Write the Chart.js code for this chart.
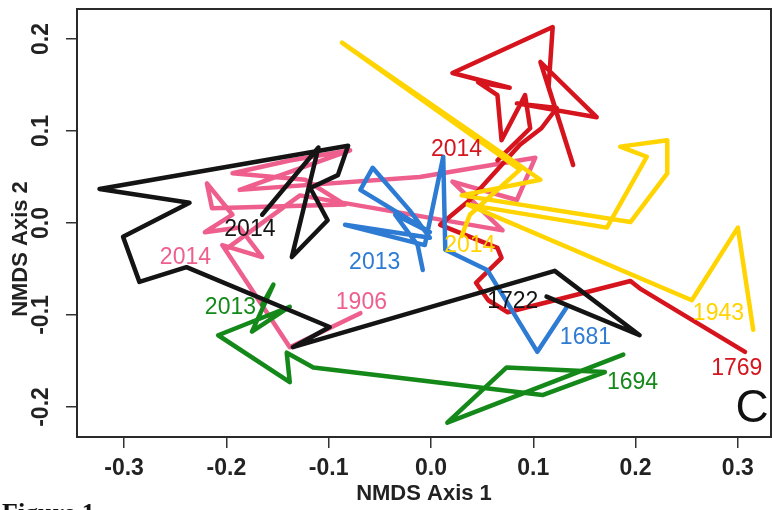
<!DOCTYPE html>
<html>
<head>
<meta charset="utf-8">
<title>NMDS trajectories</title>
<script src="https://cdn.jsdelivr.net/npm/chart.js@4.4.1/dist/chart.umd.min.js"></script>
<style>
  html, body { margin: 0; padding: 0; background: #fff; }
  #wrap { width: 772px; height: 510px; position: relative; }
</style>
</head>
<body>
<div id="wrap"><canvas id="nmds" width="772" height="510"></canvas></div>
<script>
  "use strict";

  // NMDS scores per site, oldest sample first, last point = 2013/2014
  const s1722X = [0.113, 0.204, 0.121, -0.135, -0.099, -0.239, -0.285, -0.301, -0.236, -0.324, -0.081, -0.091, -0.118, -0.101, -0.136, -0.110, -0.165];
  const s1722Y = [-0.080, -0.122, -0.052, -0.135, -0.113, -0.048, -0.064, -0.015, 0.022, 0.037, 0.084, 0.052, 0.038, 0.003, -0.037, 0.082, 0.009];

  const s1906X = [-0.069, -0.138, -0.204, -0.165, -0.187, -0.221, -0.194, -0.219, -0.214, -0.084, -0.123, -0.194, -0.138, -0.079, -0.187, -0.011, 0.102, 0.084, 0.021, 0.070, -0.128, -0.201];
  const s1906Y = [-0.098, -0.135, -0.024, -0.037, -0.005, -0.010, 0.009, 0.043, 0.016, 0.020, 0.047, 0.054, 0.068, 0.079, 0.036, 0.050, 0.071, 0.025, 0.045, -0.008, 0.030, -0.029];

  const s1769X = [0.307, 0.204, 0.195, 0.075, 0.056, 0.044, 0.069, 0.065, 0.009, 0.038, 0.087, 0.108, 0.123, 0.084, 0.162, 0.107, 0.139, 0.115, 0.119, 0.021, 0.077, 0.046, 0.065, 0.069, 0.092, 0.097, 0.065];
  const s1769Y = [-0.140, -0.071, -0.063, -0.097, -0.084, -0.065, -0.038, -0.027, -0.002, 0.025, 0.085, 0.103, 0.125, 0.130, 0.115, 0.175, 0.063, 0.148, 0.213, 0.163, 0.147, 0.153, 0.139, 0.090, 0.139, 0.103, 0.068];

  const s1943X = [0.315, 0.300, 0.255, 0.036, 0.172, 0.211, 0.185, 0.231, 0.231, 0.195, 0.030, 0.107, -0.087, 0.087, 0.038, 0.030];
  const s1943Y = [-0.116, -0.005, -0.084, 0.020, -0.005, 0.072, 0.083, 0.090, 0.054, 0.001, 0.030, 0.047, 0.196, 0.058, 0.009, -0.014];

  const s1681X = [0.133, 0.104, 0.055, 0.014, 0.012, -0.006, -0.084, -0.001, -0.021, -0.057, -0.069, -0.001, -0.035, -0.013, -0.008];
  const s1681Y = [-0.091, -0.140, -0.051, -0.029, 0.072, -0.024, -0.002, -0.016, 0.014, 0.060, 0.036, -0.010, 0.009, -0.024, -0.051];

  const s1694X = [0.188, 0.016, 0.074, 0.170, 0.109, -0.115, -0.141, -0.138, -0.208, -0.138, -0.175, -0.154, -0.165];
  const s1694Y = [-0.143, -0.217, -0.157, -0.162, -0.187, -0.157, -0.141, -0.173, -0.122, -0.091, -0.118, -0.067, -0.089];

  const xTicks = [-0.3, -0.2, -0.1, 0.0, 0.1, 0.2, 0.3];
  const yTicks = [-0.2, -0.1, 0.0, 0.1, 0.2];

  const COLORS = {
    black: "#141414",
    pink: "#ee5f8e",
    red: "#d5141d",
    yellow: "#ffd400",
    blue: "#2e7bd3",
    green: "#14891a",
  };

  // start / end year tags, placed in NMDS units
  const yearTags = [
    { text: "2014", x: -0.177, y: -0.007, color: COLORS.black },
    { text: "1722", x: 0.080, y: -0.086, color: COLORS.black },
    { text: "2014", x: -0.240, y: -0.038, color: COLORS.pink },
    { text: "1906", x: -0.068, y: -0.087, color: COLORS.pink },
    { text: "2013", x: -0.196, y: -0.092, color: COLORS.green },
    { text: "1694", x: 0.197, y: -0.174, color: COLORS.green },
    { text: "2013", x: -0.055, y: -0.043, color: COLORS.blue },
    { text: "1681", x: 0.151, y: -0.125, color: COLORS.blue },
    { text: "2014", x: 0.025, y: 0.080, color: COLORS.red },
    { text: "1769", x: 0.299, y: -0.158, color: COLORS.red },
    { text: "2014", x: 0.038, y: -0.025, color: COLORS.yellow },
    { text: "1943", x: 0.281, y: -0.098, color: COLORS.yellow },
  ];

  const SANS = '"Liberation Sans", Arial, Helvetica, sans-serif';

  function pts(xs, ys) {
    return xs.map((v, i) => ({ x: v, y: ys[i] }));
  }

  function track(label, xs, ys, color, order) {
    return {
      label,
      data: pts(xs, ys),
      showLine: true,
      borderColor: color,
      backgroundColor: color,
      borderWidth: 4.5,
      borderJoinStyle: "round",
      borderCapStyle: "round",
      pointRadius: 0,
      tension: 0,
      order,
    };
  }

  const decor = {
    id: "decor",
    afterDatasetsDraw(chart) {
      const { ctx, scales: { x, y } } = chart;
      ctx.save();
      ctx.font = "23px " + SANS;
      ctx.textAlign = "center";
      ctx.textBaseline = "middle";
      yearTags.forEach((t) => {
        ctx.fillStyle = t.color;
        ctx.fillText(t.text, x.getPixelForValue(t.x), y.getPixelForValue(t.y));
      });
      // panel letter
      ctx.fillStyle = "#111";
      ctx.font = "46px " + SANS;
      ctx.fillText("C", x.getPixelForValue(0.314), y.getPixelForValue(-0.203));
      ctx.restore();
    },
    afterDraw(chart) {
      const { ctx, chartArea: a, scales: { y } } = chart;
      ctx.save();
      // frame
      ctx.strokeStyle = "#2a2a2a";
      ctx.lineWidth = 2;
      ctx.strokeRect(a.left, a.top, a.right - a.left, a.bottom - a.top);

      // y tick labels, turned like base R graphics
      ctx.fillStyle = "#222";
      ctx.font = "bold 23px " + SANS;
      ctx.textAlign = "center";
      ctx.textBaseline = "middle";
      yTicks.forEach((v) => {
        ctx.save();
        ctx.translate(42, y.getPixelForValue(v));
        ctx.rotate(-Math.PI / 2);
        ctx.fillText(v.toFixed(1), 0, 0);
        ctx.restore();
      });

      // y axis title
      ctx.save();
      ctx.font = "bold 22px " + SANS;
      ctx.translate(21, 249);
      ctx.rotate(-Math.PI / 2);
      ctx.fillText("NMDS Axis 2", 0, 0);
      ctx.restore();

      // caption, mostly below the bottom edge
      ctx.textAlign = "left";
      ctx.textBaseline = "alphabetic";
      ctx.fillStyle = "#111";
      ctx.font = 'bold 26px "Liberation Serif", "Times New Roman", serif';
      ctx.fillText("Figure 1", 2, 521);
      ctx.restore();
    },
  };

  new Chart(document.getElementById("nmds"), {
    type: "scatter",
    data: {
      datasets: [
        track("1722", s1722X, s1722Y, COLORS.black, 0),
        track("1694", s1694X, s1694Y, COLORS.green, 1),
        track("1681", s1681X, s1681Y, COLORS.blue, 2),
        track("1943", s1943X, s1943Y, COLORS.yellow, 3),
        track("1769", s1769X, s1769Y, COLORS.red, 4),
        track("1906", s1906X, s1906Y, COLORS.pink, 5),
      ],
    },
    options: {
      responsive: false,
      animation: false,
      events: [],
      layout: { padding: { top: 9, right: 1, left: 0, bottom: 0 } },
      plugins: { legend: { display: false }, tooltip: { enabled: false } },
      scales: {
        x: {
          type: "linear",
          min: -0.346,
          max: 0.3324,
          afterBuildTicks: (s) => { s.ticks = xTicks.map((v) => ({ value: v })); },
          afterFit: (s) => { s.height = 73; },
          grid: { drawOnChartArea: false, drawTicks: true, tickLength: 11, color: "#333", lineWidth: 1.5 },
          border: { display: true, color: "#2a2a2a", width: 2 },
          ticks: {
            color: "#222",
            font: { family: SANS, size: 23, weight: "bold" },
            padding: 7,
            maxRotation: 0,
            autoSkip: false,
            callback: (v) => (Math.abs(v) < 1e-9 ? "0.0" : Number(v).toFixed(1)),
          },
          title: {
            display: true,
            text: "NMDS Axis 1",
            color: "#222",
            font: { family: SANS, size: 22, weight: "bold" },
            padding: { top: 0, bottom: 3 },
          },
        },
        y: {
          type: "linear",
          min: -0.2326,
          max: 0.2326,
          afterBuildTicks: (s) => { s.ticks = yTicks.map((v) => ({ value: v })); },
          afterFit: (s) => { s.width = 77; },
          grid: { drawOnChartArea: false, drawTicks: true, tickLength: 11, color: "#333", lineWidth: 1.5 },
          border: { display: true, color: "#2a2a2a", width: 2 },
          ticks: { display: false },
        },
      },
    },
    plugins: [decor],
  });
</script>
</body>
</html>
